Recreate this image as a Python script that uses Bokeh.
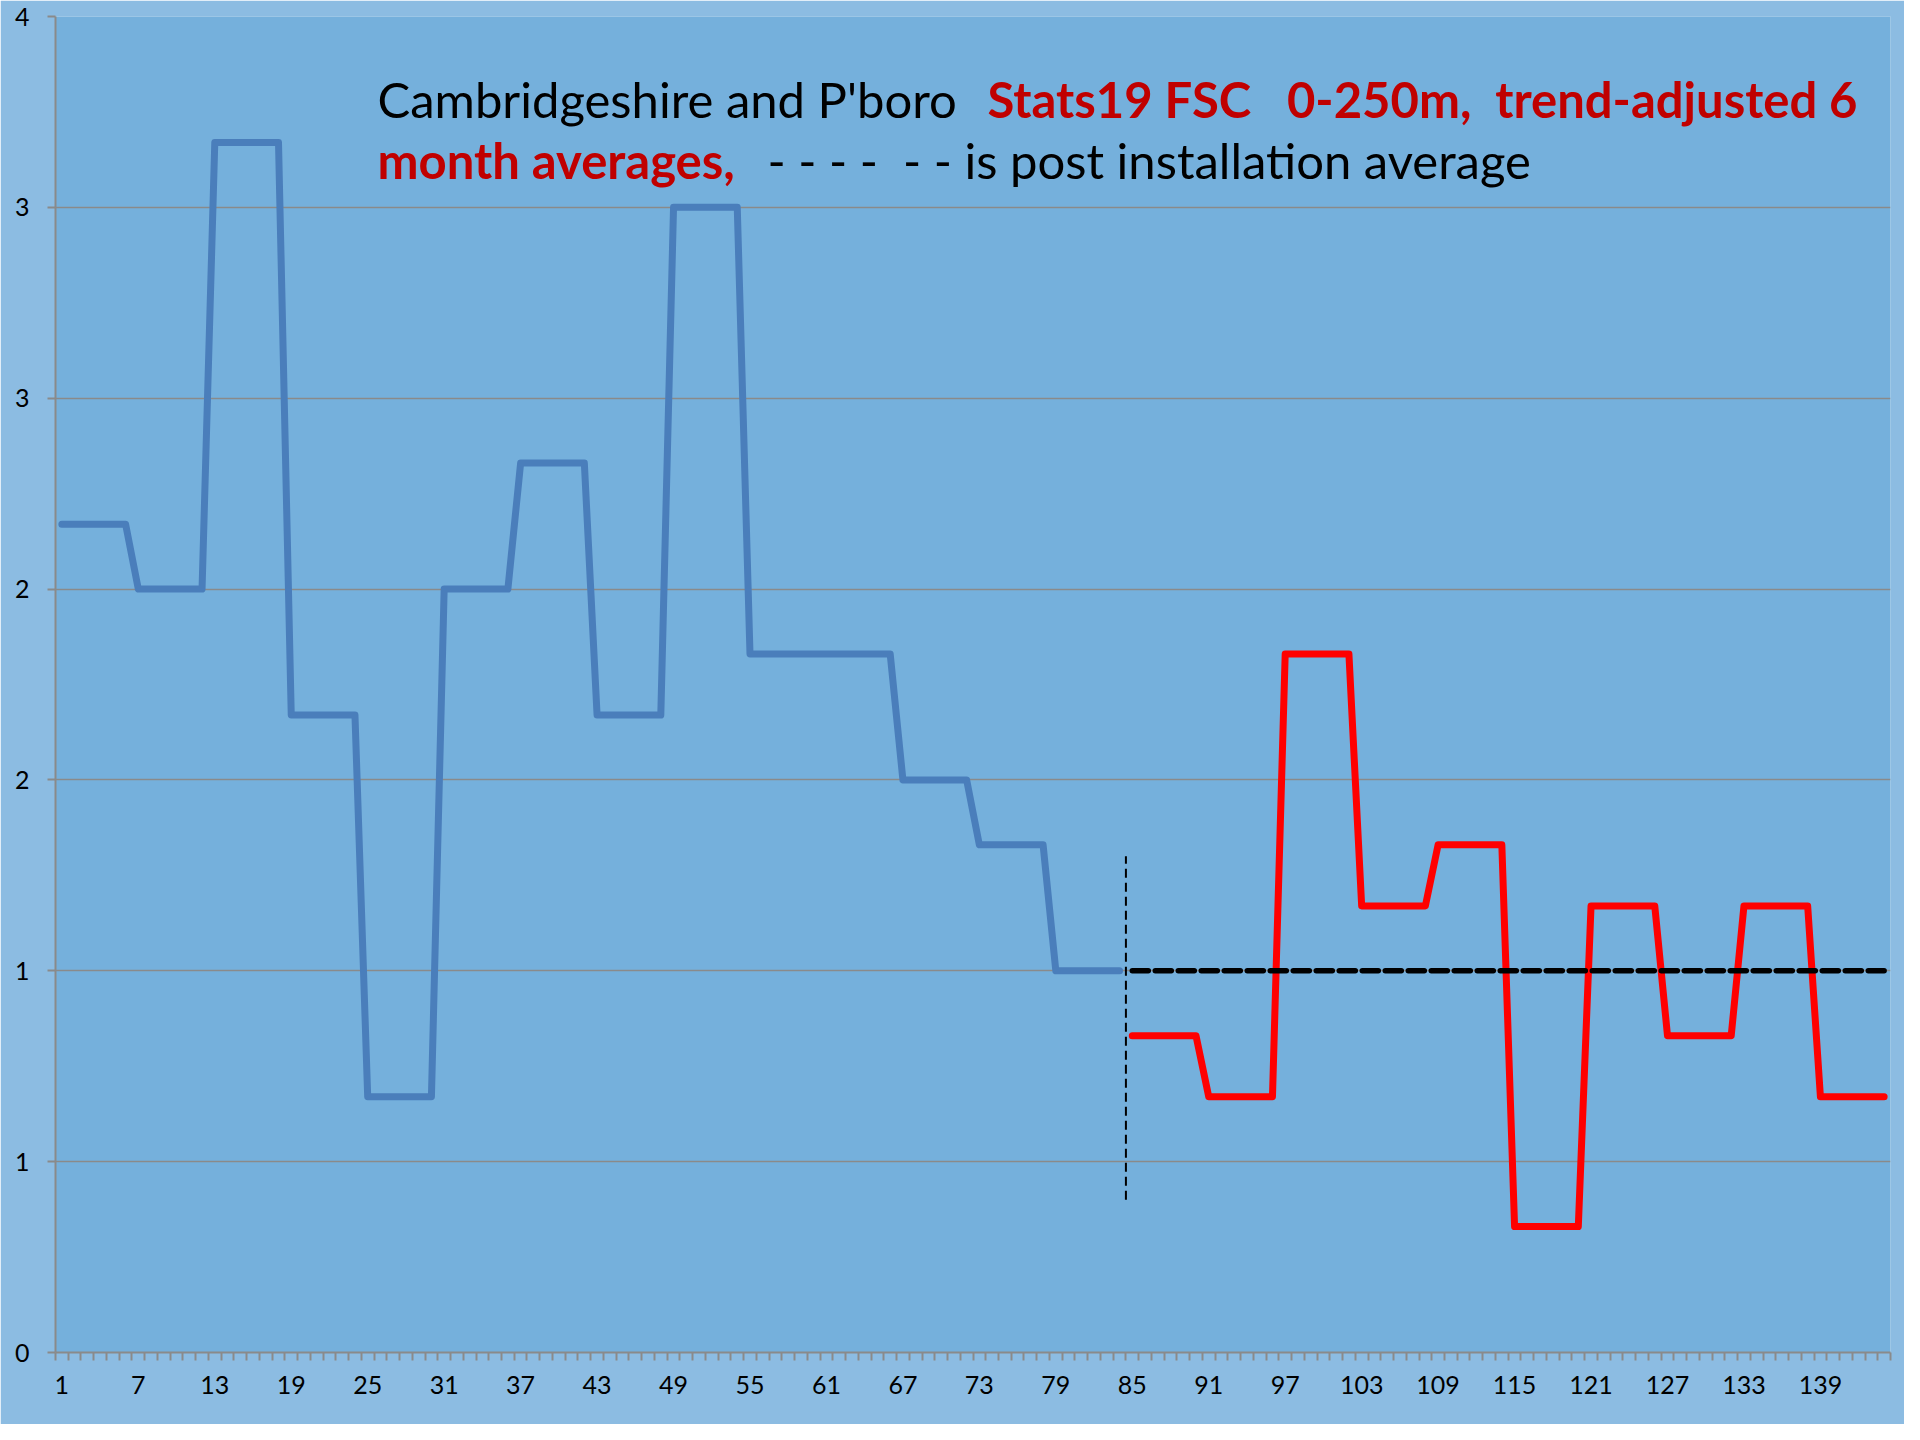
from bokeh.plotting import figure
from bokeh.models import Range1d, FixedTicker, Label
from bokeh.embed import file_html
from bokeh.resources import INLINE

# ---------------- data ----------------
pre_months = list(range(1, 85))
pre_values = [
    2.17, 2.17, 2.17, 2.17, 2.17, 2.17,
    2.00, 2.00, 2.00, 2.00, 2.00, 2.00,
    3.17, 3.17, 3.17, 3.17, 3.17, 3.17,
    1.67, 1.67, 1.67, 1.67, 1.67, 1.67,
    0.67, 0.67, 0.67, 0.67, 0.67, 0.67,
    2.00, 2.00, 2.00, 2.00, 2.00, 2.00,
    2.33, 2.33, 2.33, 2.33, 2.33, 2.33,
    1.67, 1.67, 1.67, 1.67, 1.67, 1.67,
    3.00, 3.00, 3.00, 3.00, 3.00, 3.00,
    1.83, 1.83, 1.83, 1.83, 1.83, 1.83,
    1.83, 1.83, 1.83, 1.83, 1.83, 1.83,
    1.50, 1.50, 1.50, 1.50, 1.50, 1.50,
    1.33, 1.33, 1.33, 1.33, 1.33, 1.33,
    1.00, 1.00, 1.00, 1.00, 1.00, 1.00,
]
post_months = list(range(85, 145))
post_values = [
    0.83, 0.83, 0.83, 0.83, 0.83, 0.83,
    0.67, 0.67, 0.67, 0.67, 0.67, 0.67,
    1.83, 1.83, 1.83, 1.83, 1.83, 1.83,
    1.17, 1.17, 1.17, 1.17, 1.17, 1.17,
    1.33, 1.33, 1.33, 1.33, 1.33, 1.33,
    0.33, 0.33, 0.33, 0.33, 0.33, 0.33,
    1.17, 1.17, 1.17, 1.17, 1.17, 1.17,
    0.83, 0.83, 0.83, 0.83, 0.83, 0.83,
    1.17, 1.17, 1.17, 1.17, 1.17, 1.17,
    0.67, 0.67, 0.67, 0.67, 0.67, 0.67,
]
post_avg_months = [85, 144]
post_avg_values = [1.0, 1.0]
install_x = [84.5, 84.5]
install_y = [0.40, 1.30]

x_tick_labels = [1, 7, 13, 19, 25, 31, 37, 43, 49, 55, 61, 67, 73, 79, 85, 91,
                 97, 103, 109, 115, 121, 127, 133, 139]
y_ticks = [0.0, 0.5, 1.0, 1.5, 2.0, 2.5, 3.0, 3.5]
y_tick_labels = ["0", "1", "1", "2", "2", "3", "3", "4"]

title_black_1 = "Cambridgeshire and P'boro"
title_red_1 = "Stats19 FSC   0-250m,  trend-adjusted 6"
title_red_2 = "month averages,"
title_black_2 = "- - - -  - - is post installation average"


def keep_spaces(s):
    # SVG collapses runs of spaces; use no-break spaces instead
    return s.replace(" ", "\u00a0")


# ---------------- figure ----------------
FONT = "Lato"
OUTER = "#8CBCE2"
INNER = "#75B0DC"
GRID = "#8A8A8A"

n_months = 144
p = figure(width=1904, height=1424, output_backend="svg", toolbar_location=None,
           x_range=Range1d(0.5, n_months + 0.5), y_range=Range1d(0, 3.5),
           min_border_left=55, min_border_right=14, min_border_top=16,
           min_border_bottom=72, title=None)
p.background_fill_color = INNER
p.border_fill_color = OUTER
p.outline_line_color = None

# x axis
boundaries = [m - 0.5 for m in range(1, n_months + 2)]
p.xaxis.ticker = FixedTicker(ticks=x_tick_labels, minor_ticks=boundaries)
p.xaxis.major_tick_line_color = None
p.xaxis.major_tick_out = 8
p.xaxis.major_tick_in = 0
p.xaxis.minor_tick_out = 8
p.xaxis.minor_tick_in = 0
p.xaxis.minor_tick_line_color = GRID
p.xaxis.minor_tick_line_width = 2
p.xaxis.axis_line_color = GRID
p.xaxis.axis_line_width = 2
p.xaxis.major_label_standoff = 15
p.xaxis.major_label_text_font = FONT
p.xaxis.major_label_text_font_size = "25px"
p.xaxis.major_label_text_color = "black"

# y axis
p.yaxis.ticker = FixedTicker(ticks=y_ticks)
p.yaxis.major_label_overrides = dict(zip(y_ticks, y_tick_labels))
p.yaxis.minor_tick_line_color = None
p.yaxis.major_tick_out = 8
p.yaxis.major_tick_in = 0
p.yaxis.major_tick_line_color = GRID
p.yaxis.major_tick_line_width = 2
p.yaxis.axis_line_color = GRID
p.yaxis.axis_line_width = 2
p.yaxis.major_label_standoff = 18
p.yaxis.major_label_text_font = FONT
p.yaxis.major_label_text_font_size = "25px"
p.yaxis.major_label_text_color = "black"

p.xgrid.visible = False
p.ygrid.ticker = FixedTicker(ticks=y_ticks)
p.ygrid.grid_line_color = GRID
p.ygrid.grid_line_width = 1.5

# series
p.line(pre_months, pre_values, line_color="#4A7EBB", line_width=7,
       line_join="round", line_cap="round")
p.line(post_months, post_values, line_color="#FF0000", line_width=7,
       line_join="round", line_cap="round")
p.line(post_avg_months, post_avg_values, line_color="black", line_width=5.5,
       line_dash="16 7", line_cap="round")
p.line(install_x, install_y, line_color="black", line_width=2, line_dash="9 5")

# title (two lines, mixed colours)
common = dict(text_font=FONT, text_font_size="49px", text_baseline="alphabetic",
              text_align="left")
line1_y = 3.285
line2_y = 3.123
p.add_layout(Label(x=25.77, y=line1_y, text=keep_spaces(title_black_1),
                   text_color="black", **common))
p.add_layout(Label(x=73.64, y=line1_y, text=keep_spaces(title_red_1),
                   text_color="#C00000", text_font_style="bold", **common))
p.add_layout(Label(x=25.77, y=line2_y, text=keep_spaces(title_red_2),
                   text_color="#C00000", text_font_style="bold", **common))
p.add_layout(Label(x=56.37, y=line2_y, text=keep_spaces(title_black_2),
                   text_color="black", **common))

open("out.html", "w").write(file_html(p, INLINE))
